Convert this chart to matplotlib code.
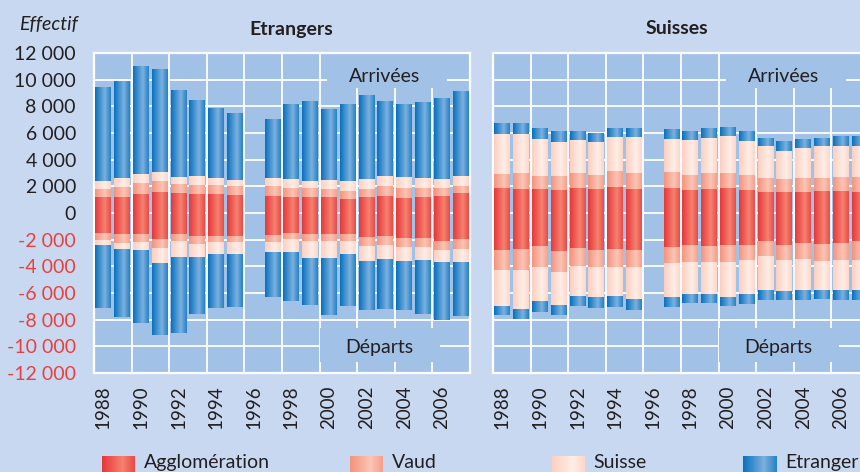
import numpy as np
import matplotlib
matplotlib.use('Agg')
import matplotlib.pyplot as plt
from matplotlib.colors import to_rgb
from matplotlib.patches import Rectangle

plt.rcParams['font.family'] = ['Lato', 'DejaVu Sans']

# --- data (1996 missing) ---
years = [1988, 1989, 1990, 1991, 1992, 1993, 1994, 1995,
         1997, 1998, 1999, 2000, 2001, 2002, 2003, 2004, 2005, 2006, 2007]
series = ['Agglomération', 'Vaud', 'Suisse', 'Etranger']

# Etrangers - arrivées
etr_arr_agglo = [1175, 1175, 1450, 1600, 1525, 1450, 1450, 1375, 1300, 1225, 1225, 1225, 1075, 1225, 1300, 1150, 1225, 1300, 1525]
etr_arr_vaud = [650, 800, 825, 825, 675, 675, 675, 675, 750, 675, 675, 600, 600, 600, 750, 750, 675, 600, 525]
etr_arr_suisse = [600, 675, 675, 675, 525, 675, 525, 450, 600, 675, 525, 675, 750, 750, 750, 825, 750, 675, 750]
etr_arr_etranger = [7000, 7275, 8100, 7725, 6525, 5700, 5250, 5025, 4425, 5625, 6000, 5325, 5775, 6300, 5625, 5475, 5700, 6075, 6375]
# Etrangers - départs
etr_dep_agglo = [1475, 1550, 1550, 1925, 1550, 1700, 1700, 1700, 1625, 1475, 1550, 1550, 1550, 1775, 1700, 1850, 1850, 2075, 1925]
etr_dep_vaud = [525, 675, 600, 675, 525, 600, 450, 450, 525, 450, 525, 525, 525, 675, 675, 675, 675, 675, 750]
etr_dep_suisse = [450, 525, 675, 1200, 1275, 1050, 975, 975, 825, 1050, 1350, 1350, 1050, 1200, 1125, 1125, 1050, 975, 1050]
etr_dep_etranger = [4700, 5075, 5450, 5375, 5675, 4250, 4025, 3950, 3350, 3650, 3500, 4250, 3875, 3650, 3725, 3650, 4025, 4325, 4025]

# Suisses - arrivées
sui_arr_agglo = [1900, 1825, 1825, 1750, 1900, 1825, 1975, 1825, 1900, 1750, 1825, 1900, 1750, 1600, 1600, 1600, 1675, 1625, 1610]
sui_arr_vaud = [1050, 1200, 975, 1050, 1125, 1050, 1200, 1200, 1200, 1125, 1200, 1125, 1125, 1050, 975, 1050, 975, 1040, 1100]
sui_arr_suisse = [3000, 2925, 2775, 2550, 2475, 2475, 2550, 2700, 2475, 2625, 2625, 2775, 2550, 2400, 2100, 2250, 2400, 2330, 2310]
sui_arr_etranger = [825, 825, 825, 825, 675, 675, 675, 675, 750, 675, 750, 675, 750, 600, 750, 675, 600, 700, 750]
# Suisses - départs
sui_dep_agglo = [2750, 2675, 2450, 2825, 2600, 2750, 2675, 2750, 2525, 2375, 2450, 2375, 2375, 2075, 2375, 2225, 2300, 2300, 2140]
sui_dep_vaud = [1575, 1650, 1650, 1650, 1425, 1350, 1425, 1350, 1275, 1350, 1275, 1350, 1200, 1200, 1200, 1275, 1350, 1250, 1435]
sui_dep_suisse = [2675, 2900, 2525, 2450, 2225, 2225, 2150, 2375, 2525, 2375, 2375, 2600, 2525, 2525, 2300, 2300, 2150, 2280, 2265]
sui_dep_etranger = [675, 750, 825, 750, 750, 825, 825, 825, 750, 675, 675, 675, 750, 750, 675, 750, 675, 700, 705]

yticks = list(range(-12000, 12001, 2000))
xticks = list(range(1988, 2007, 2))

# --- style ---
FIG_BG = '#C8D8F0'
AX_BG = '#A2C1E6'
TXT = '#231F20'
NEG = '#E8413D'
dark = {'Agglomération': '#E6373A', 'Vaud': '#F3937E', 'Suisse': '#FCCFC0', 'Etranger': '#0672BF'}
light = {'Agglomération': '#F5826F', 'Vaud': '#FCC5B5', 'Suisse': '#FFEEE7', 'Etranger': '#7DB0DE'}
W = 0.85


def gradient(name, n=64):
    t = np.linspace(0, 1, n)
    m = np.interp(t, [0, 0.62, 1], [0, 1, 0.25])
    d = np.array(to_rgb(dark[name]))
    l = np.array(to_rgb(light[name]))
    return (d[None, :] * (1 - m[:, None]) + l[None, :] * m[:, None])[None, :, :]


def shade(ax, bars, img):
    for p in bars:
        x0, x1 = p.get_x(), p.get_x() + p.get_width()
        y0, y1 = sorted([p.get_y(), p.get_y() + p.get_height()])
        ax.imshow(img, extent=(x0, x1, y0, y1), aspect='auto',
                  interpolation='bilinear', zorder=3)


def panel(ax, arr, dep):
    ax.set_facecolor(AX_BG)
    ax.set_axisbelow(True)
    bottom = np.zeros(len(years))
    for vals, name in zip(arr, series):
        v = np.array(vals, dtype=float)
        bars = ax.bar(years, v, W, bottom=bottom, color=dark[name], linewidth=0, zorder=2)
        shade(ax, bars, gradient(name))
        bottom += v
    bottom = np.zeros(len(years))
    for vals, name in zip(dep, series):
        v = -np.array(vals, dtype=float)
        bars = ax.bar(years, v, W, bottom=bottom, color=dark[name], linewidth=0, zorder=2)
        shade(ax, bars, gradient(name))
        bottom += v

    ax.set_xlim(1987.5, 2007.5)
    ax.set_ylim(-12000, 12000)
    ax.set_xticks(xticks)
    ax.set_xticklabels([str(y) for y in xticks], rotation=90, fontsize=13.5, color=TXT)
    ax.set_xticks(np.arange(1989.5, 2006, 2), minor=True)
    ax.set_yticks(yticks)
    ax.tick_params(which='both', length=0)
    ax.tick_params(axis='x', pad=9)
    ax.grid(axis='y', which='major', color='white', lw=1.3)
    ax.grid(axis='x', which='minor', color='white', lw=1.3)
    for s in ax.spines.values():
        s.set_color('white')
        s.set_linewidth(1.6)

    # label boxes hiding the grid
    ax.add_patch(Rectangle((0.62, 0.89), 0.32, 0.11, transform=ax.transAxes,
                           facecolor=AX_BG, edgecolor='none', zorder=1))
    ax.add_patch(Rectangle((0.60, 0.034), 0.32, 0.106, transform=ax.transAxes,
                           facecolor=AX_BG, edgecolor='none', zorder=1))
    ax.text(0.774, 0.925, 'Arrivées', transform=ax.transAxes, ha='center',
            va='center', fontsize=14, color=TXT, zorder=4)
    ax.text(0.758, 0.08, 'Départs', transform=ax.transAxes, ha='center',
            va='center', fontsize=14, color=TXT, zorder=4)


fig = plt.figure(figsize=(8.6, 4.72), dpi=100, facecolor=FIG_BG)
ax1 = fig.add_axes([94 / 860, 99 / 472, 376 / 860, 320 / 472])
ax2 = fig.add_axes([493 / 860, 99 / 472, 376 / 860, 320 / 472])

panel(ax1, [etr_arr_agglo, etr_arr_vaud, etr_arr_suisse, etr_arr_etranger],
      [etr_dep_agglo, etr_dep_vaud, etr_dep_suisse, etr_dep_etranger])
panel(ax2, [sui_arr_agglo, sui_arr_vaud, sui_arr_suisse, sui_arr_etranger],
      [sui_dep_agglo, sui_dep_vaud, sui_dep_suisse, sui_dep_etranger])

ax1.set_yticklabels(['{:,}'.format(v).replace(',', ' ') for v in yticks], fontsize=14)
ax1.tick_params(axis='y', pad=13)
for lab, v in zip(ax1.get_yticklabels(), yticks):
    lab.set_color(NEG if v < 0 else TXT)
ax2.set_yticklabels([])

fig.text(78 / 860, 1 - 25 / 472, 'Effectif', ha='right', va='center',
         style='italic', fontsize=14, color=TXT)
fig.text(291 / 860, 1 - 29 / 472, 'Etrangers', ha='center', va='center',
         fontweight='bold', fontsize=14, color=TXT)
fig.text(677 / 860, 1 - 29 / 472, 'Suisses', ha='center', va='center',
         fontweight='bold', fontsize=14, color=TXT)

# legend along the bottom edge
swatch_x = [102, 350, 552, 743]
text_x = [144, 392, 593, 785]
for name, sx, tx in zip(series, swatch_x, text_x):
    lax = fig.add_axes([sx / 860, -4 / 472, 33 / 860, 20 / 472])
    lax.imshow(gradient(name), aspect='auto', interpolation='bilinear')
    lax.axis('off')
    fig.text(tx / 860, 4 / 472, name, ha='left', va='baseline', fontsize=14, color=TXT)

fig.savefig('out.png', dpi=100, facecolor=FIG_BG)
